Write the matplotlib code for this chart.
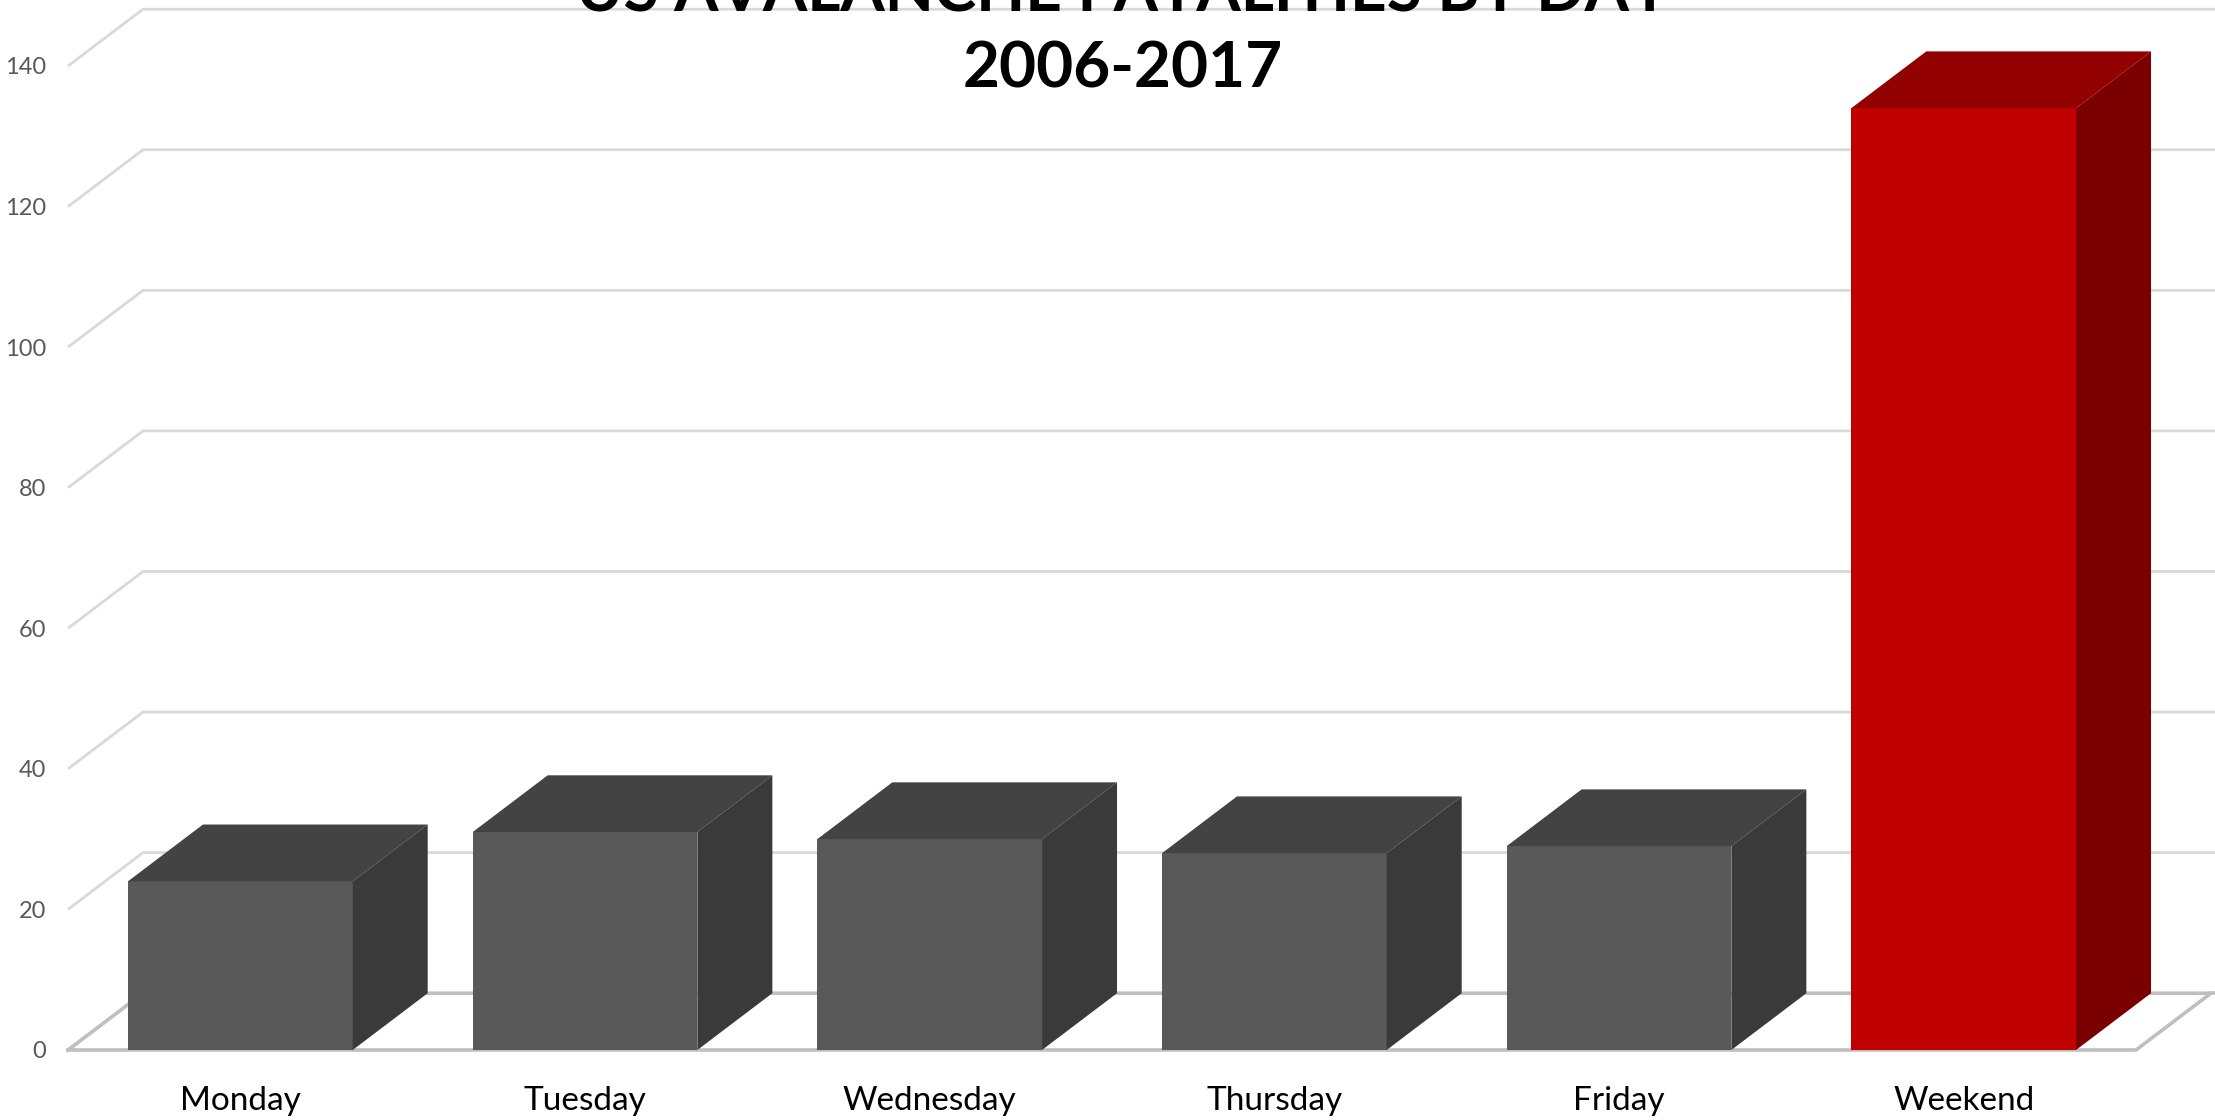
import matplotlib
matplotlib.use("Agg")
import matplotlib.pyplot as plt
from matplotlib.patches import Polygon

# data
days = ["Monday", "Tuesday", "Wednesday", "Thursday", "Friday", "Weekend"]
fatalities = [24, 31, 30, 28, 29, 134]
front_cols = ["#595959"] * 5 + ["#C00000"]
top_cols = ["#434343"] * 5 + ["#930000"]
side_cols = ["#3A3A3A"] * 5 + ["#7A0000"]
yticks = [0, 20, 40, 60, 80, 100, 120, 140]

plt.rcParams['font.family'] = ['Lato', 'DejaVu Sans']

fig = plt.figure(figsize=(22.15, 11.2), dpi=100)
ax = fig.add_axes([68 / 2215, 70 / 1120, 2068 / 2215, 984 / 1120])
ax.set_xlim(-0.5, 5.5)
ax.set_ylim(0, 140)

# depth offset of the fake 3d (in data units)
ddx = 0.2176
ddy = 8.08
w = 0.652

# back wall gridlines + left slant
for v in yticks[1:]:
    ax.plot([-0.5, -0.5 + ddx, 6.0], [v, v + ddy, v + ddy], color="#D9D9D9",
            lw=2.0, clip_on=False, zorder=1, solid_capstyle='butt')

# floor
ax.plot([-0.5, 5.5, 5.5 + ddx, -0.5 + ddx, -0.5], [0, 0, ddy, ddy, 0],
        color="#BFBFBF", lw=2.6, clip_on=False, zorder=1)
ax.plot([5.5 + ddx, 6.0], [ddy, ddy], color="#BFBFBF", lw=2.6, clip_on=False, zorder=1)

x = list(range(len(days)))
ax.bar(x, fatalities, width=w, color=front_cols, zorder=3)
for i, v in enumerate(fatalities):
    l, r = i - w / 2, i + w / 2
    top = Polygon([(l, v), (l + ddx, v + ddy), (r + ddx, v + ddy), (r, v)],
                  closed=True, facecolor=top_cols[i], edgecolor='none',
                  clip_on=False, zorder=3)
    side = Polygon([(r, 0), (r, v), (r + ddx, v + ddy), (r + ddx, ddy)],
                   closed=True, facecolor=side_cols[i], edgecolor='none',
                   clip_on=False, zorder=3)
    ax.add_patch(top)
    ax.add_patch(side)

ax.set_xticks(x)
ax.set_xticklabels(days, fontsize=24, color="#000000")
ax.set_yticks(yticks)
ax.set_yticklabels([str(t) for t in yticks], fontsize=17, color="#595959")
ax.tick_params(axis='x', length=0, pad=26)
ax.tick_params(axis='y', length=0, pad=16)
for s in ax.spines.values():
    s.set_visible(False)

# title runs off the top edge in the original, first line mostly hidden
fig.text(0.507, 1 - 11 / 1120, "US AVALANCHE FATALITIES BY DAY", ha='center',
         va='baseline', fontsize=46, fontweight='bold')
fig.text(0.507, 1 - 88 / 1120, "2006-2017", ha='center', va='baseline',
         fontsize=46, fontweight='bold')

fig.savefig("out.png", dpi=100)
